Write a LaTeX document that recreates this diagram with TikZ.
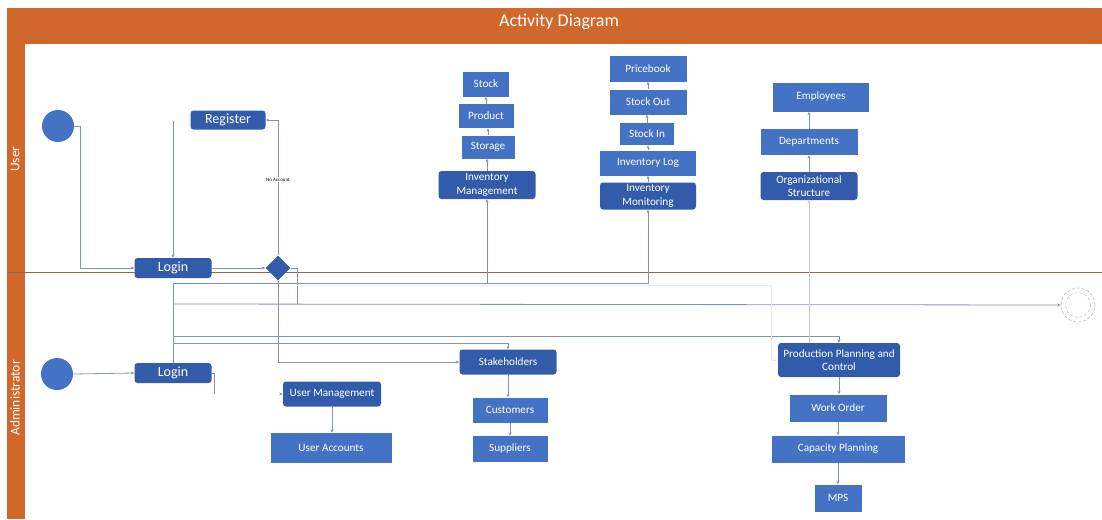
\documentclass[tikz,border=0pt]{standalone}
\usepackage{fontspec}
\setmainfont{Carlito}
\usetikzlibrary{arrows.meta,shapes.geometric,calc}
\definecolor{lane}{RGB}{207,104,42}
\definecolor{laneline}{RGB}{150,100,70}
\definecolor{boxblue}{RGB}{68,114,196}
\definecolor{actblue}{RGB}{50,92,170}
\definecolor{wiregray}{RGB}{132,148,172}
\tikzstyle{box}=[rectangle,fill=boxblue,text=white,inner sep=0pt,align=center,font=\fontsize{11.2}{13.5}\selectfont]
\tikzstyle{act}=[box,fill=actblue,rounded corners=3pt]
\tikzstyle{bigact}=[act,font=\fontsize{14}{15}\selectfont]
\tikzstyle{startnode}=[circle,fill=boxblue,minimum size=32pt,inner sep=0pt]
\tikzstyle{wire}=[draw=wiregray,line width=0.8pt]
\tikzstyle{flow}=[wire,-{Stealth[length=3.5pt,width=3pt]}]
\tikzstyle{lanetext}=[text=white,rotate=90,font=\fontsize{13.5}{14}\selectfont]

\begin{document}
\begin{tikzpicture}[x=1pt,y=-1pt]
    \useasboundingbox (0,0) rectangle (1102,519);
    % swimlane frame
    \fill[lane] (7,8) rectangle (1102,44);
    \fill[lane] (7,8) rectangle (25,519);
    \node[text=white,font=\fontsize{18}{18}\selectfont] (title) at (559,22) {Activity Diagram};
    \node[lanetext] (userlane) at (15,159) {User};
    \node[lanetext] (adminlane) at (15,398) {Administrator};
    \draw[laneline,line width=0.8pt] (7,272) -- (1102,272);

    % plain boxes
    \foreach \pos/\name/\w/\h/\txt in {{(486,84)/stock/46/25/Stock}, {(486,116)/product/55/24/Product},
                            {(488,147)/storage/53/23/Storage}, {(648,69)/pricebook/77/25/Pricebook},
                            {(648,102)/stockout/77/25/Stock Out}, {(647,134)/stockin/54/22/Stock In},
                            {(648,163)/invlog/96/25/Inventory Log}, {(821,97)/employees/96/29/Employees},
                            {(809,142)/departments/97/26/Departments}, {(331,448)/uaccounts/121/30/User Accounts},
                            {(510,410)/customers/75/25/Customers}, {(510,449)/suppliers/75/26/Suppliers},
                            {(838,408)/workorder/97/27/Work Order}, {(838,449)/capacity/133/27/Capacity Planning},
                            {(838,498)/mps/47/27/MPS}}
        \node[box,minimum width=\w,minimum height=\h] (\name) at \pos {\txt};
    % activities
    \foreach \pos/\name/\w/\h/\txt in {{(487,185)/invmgmt/97/28/{Inventory\\Management}},
                            {(648,196)/invmon/96/27/{Inventory\\Monitoring}},
                            {(809,186)/orgstruct/97/28/{Organizational\\Structure}},
                            {(332,394)/usermgmt/98/25/User Management}, {(508,362)/stake/97/25/Stakeholders},
                            {(839,360)/ppc/122/34/{Production Planning and\\Control}}}
        \node[act,minimum width=\w,minimum height=\h] (\name) at \pos {\txt};
    \node[bigact,minimum width=75,minimum height=19] (register) at (228,120) {Register};
    \node[bigact,minimum width=77,minimum height=20] (ulogin) at (173,268) {Login};
    \node[bigact,minimum width=77,minimum height=20] (alogin) at (173,373) {Login};

    % start, decision, end
    \node[startnode] (ustart) at (58,126) {};
    \node[startnode] (astart) at (57,374) {};
    \node[diamond,fill=actblue,minimum width=25,minimum height=25,inner sep=0pt] (dec) at (278,268) {};
    \node[circle,draw=gray!70,densely dashed,minimum size=34pt,inner sep=0pt] (fin) at (1078,305) {};
    \draw[gray!60,densely dashed] (fin.center) circle (12.5);

    % user lane flows
    \coordinate (regdrop) at (173,121);
    \draw[flow] (ustart.east) -- ++(6,0) |- (ulogin.west);
    \draw[flow] (regdrop) -- (ulogin.north);
    \draw[flow] (ulogin.east) -- (dec.west);
    \draw[flow] (dec.north) |- node[pos=0.28,fill=white,inner sep=0.5pt,font=\fontsize{5}{5}\selectfont] {No Account} (register.east);
    \draw[wire] (dec.east) -- ++(7,0) -- ++(0,36);

    % administrator fan out
    \coordinate (busA) at (173,283);
    \coordinate (busB) at (173,304);
    \coordinate (busC) at (173,336);
    \coordinate (busD) at (173,343);
    \coordinate (faint) at (297,285);
    \draw[flow] (astart.east) -- (alogin.west);
    \draw[wire] (alogin.north) -- (busA);
    \draw[flow] (busA) -| (invmon.south);
    \draw[flow] (busA -| invmgmt.south) -- (invmgmt.south);
    \draw[flow] (busB) -- (fin.west);
    \draw[flow] (busC) -| (ppc.north);
    \draw[flow] (busD) -| (stake.north);
    \draw[flow] (dec.south) |- (stake.west);
    \draw[flow,draw=wiregray!50] (ppc.north -| orgstruct.south) -- (orgstruct.south);
    \draw[flow,draw=wiregray!18] (faint) -- (771,285) |- (ppc.west);
    \draw[wire] (alogin.east) -- ++(3,0) -- ++(0,21);
    \draw[flow] ($(usermgmt.west)+(-3,0)$) -- (usermgmt.west);

    % chains of boxes, upwards and downwards
    \foreach \source/\dest in {invmgmt/storage, storage/product, product/stock, invmon/invlog, invlog/stockin,
                               stockin/stockout, stockout/pricebook, orgstruct/departments, departments/employees}
        \path[flow] (\source.north) -- (\source.north |- \dest.south);
    \foreach \source/\dest in {stake/customers, customers/suppliers, ppc/workorder, workorder/capacity,
                               capacity/mps, usermgmt/uaccounts}
        \path[flow] (\source.south) -- (\source.south |- \dest.north);
\end{tikzpicture}
\end{document}
